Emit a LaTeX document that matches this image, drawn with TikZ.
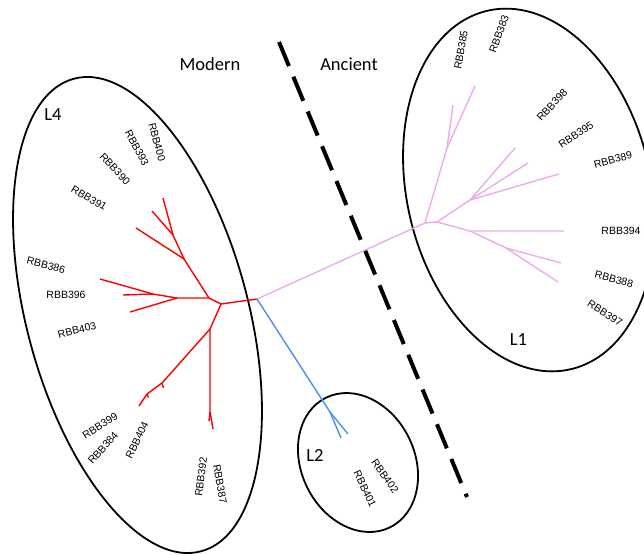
\documentclass[tikz,border=0pt]{standalone}
\usepackage{fontspec}
\setmainfont{Liberation Sans}
\newfontfamily\calib{Carlito}
\definecolor{pinkc}{RGB}{236,172,236}
\definecolor{bluec}{RGB}{74,144,236}
\begin{document}
\begin{tikzpicture}[x=1pt,y=-1pt,
  redb/.style={draw=red, line width=1.4pt},
  pinkb/.style={draw=pinkc, line width=1.4pt},
  blueb/.style={draw=bluec, line width=1.4pt},
  grp/.style={draw=black, line width=1.8pt},
  dashline/.style={draw=black, line width=4pt, dash pattern=on 26pt off 11.6pt},
  leaf/.style={font=\fontsize{10.5}{12}\selectfont, inner sep=0pt},
  big/.style={font=\calib\fontsize{18.5}{22}\selectfont, inner sep=0pt, anchor=base}]
\path[use as bounding box] (0,0) rectangle (644,554);

% group ellipses
\draw[grp] (137.5,315) ellipse [x radius=110.7pt, y radius=244.7pt, rotate=15.1];
\draw[grp] (529,190) ellipse [x radius=122pt, y radius=184pt, rotate=13.1];
\draw[grp] (358,462.5) ellipse [x radius=56.6pt, y radius=72.3pt, rotate=26.4];

% dashed divider
\coordinate (d1) at (279,42);
\coordinate (d2) at (467,497);
\draw[dashline] (d1) -- (d2);

% tree coordinates
\coordinate (root) at (257,299);
% red
\coordinate (Rm) at (221,304);
\coordinate (Ru) at (209,298);
\coordinate (Rh) at (177,298);
\coordinate (Rn) at (153,294);
\coordinate (l386) at (100,279);
\coordinate (l396) at (123,295);
\coordinate (l403) at (130,312);
\coordinate (Ra) at (184,259);
\coordinate (l391) at (136,228);
\coordinate (Rb) at (173,235);
\coordinate (l390) at (152,211);
\coordinate (l393) at (163,198);
\coordinate (Rl) at (210,329);
\coordinate (Rv) at (210,412);
\coordinate (l392) at (209,421);
\coordinate (l387) at (213,429);
\coordinate (Rd) at (162,383);
\coordinate (l404) at (163.5,388);
\coordinate (Re) at (147,394);
\coordinate (l384) at (148.5,397.5);
\coordinate (l399) at (139,406);
% pink
\coordinate (P1) at (425,223);
\coordinate (P2) at (437,222);
\coordinate (P3) at (447,148);
\coordinate (l385) at (453,105);
\coordinate (l383) at (475,86);
\coordinate (P4) at (470,200);
\coordinate (l398) at (515,148);
\coordinate (l395) at (528,163);
\coordinate (l389) at (559,174);
\coordinate (P5) at (470,231);
\coordinate (l394) at (564,231);
\coordinate (P6) at (506,248);
\coordinate (l388) at (561,263);
\coordinate (l397) at (558,282);
% blue
\coordinate (B1) at (330,412);
\coordinate (l402) at (348,434);
\coordinate (l401) at (341,438);

% red branches
\draw[redb] (root) -- (Rm) -- (Ru) -- (Rh) -- (Rn) -- (l386);
\draw[redb] (Rn) -- (l396);
\draw[redb] (Rh) -- (l403);
\draw[redb] (Ru) -- (Ra) -- (l391);
\draw[redb] (Ra) -- (Rb) -- (l390);
\draw[redb] (Rb) -- (l393);
\draw[redb] (Rm) -- (Rl) -- (Rv) -- (l392);
\draw[redb] (Rv) -- (l387);
\draw[redb] (Rl) -- (Rd) -- (Re) -- (l399);
\draw[redb] (Rd) -- (l404);
\draw[redb] (Re) -- (l384);
% pink branches
\draw[pinkb] (root) -- (P1) -- (P2);
\draw[pinkb] (P1) -- (P3) -- (l385);
\draw[pinkb] (P3) -- (l383);
\draw[pinkb] (P2) -- (P4) -- (l398);
\draw[pinkb] (P4) -- (l395);
\draw[pinkb] (P4) -- (l389);
\draw[pinkb] (P2) -- (P5) -- (l394);
\draw[pinkb] (P5) -- (P6) -- (l388);
\draw[pinkb] (P6) -- (l397);
% blue branches
\draw[blueb] (root) -- (B1) -- (l402);
\draw[blueb] (B1) -- (l401);

% big labels
\node[big] (modern) at (210,70) {Modern};
\node[big] (ancient) at (349,70) {Ancient};
\node[big] (L4) at (53,120) {L4};
\node[big] (L1) at (518.5,345) {L1};
\node[big] (L2) at (315,461) {L2};

% leaf labels
\node[leaf, rotate=-75] (t400) at (157,142) {RBB400};
\node[leaf, rotate=-62] (t393) at (137,148) {RBB393};
\node[leaf, rotate=-47] (t390) at (115,169) {RBB390};
\node[leaf, rotate=-30] (t391) at (89,198) {RBB391};
\node[leaf, rotate=-15] (t386) at (46,265) {RBB386};
\node[leaf] (t396) at (66,295) {RBB396};
\node[leaf, rotate=14] (t403) at (77,330) {RBB403};
\node[leaf, rotate=32] (t399) at (100,426) {RBB399};
\node[leaf, rotate=48] (t384) at (103,448) {RBB384};
\node[leaf, rotate=64] (t404) at (137,440) {RBB404};
\node[leaf, rotate=83] (t392) at (201,477) {RBB392};
\node[leaf, rotate=-80] (t387) at (220,484) {RBB387};
\node[leaf, rotate=80] (t385) at (461,50) {RBB385};
\node[leaf, rotate=70] (t383) at (499,34) {RBB383};
\node[leaf, rotate=47] (t398) at (552,105) {RBB398};
\node[leaf, rotate=33] (t395) at (576,135) {RBB395};
\node[leaf, rotate=15] (t389) at (613,160) {RBB389};
\node[leaf] (t394) at (621,231) {RBB394};
\node[leaf, rotate=-15] (t388) at (614,279) {RBB388};
\node[leaf, rotate=-33] (t397) at (605,313) {RBB397};
\node[leaf, rotate=-55] (t402) at (385,476) {RBB402};
\node[leaf, rotate=-65] (t401) at (365,489) {RBB401};
\end{tikzpicture}
\end{document}
